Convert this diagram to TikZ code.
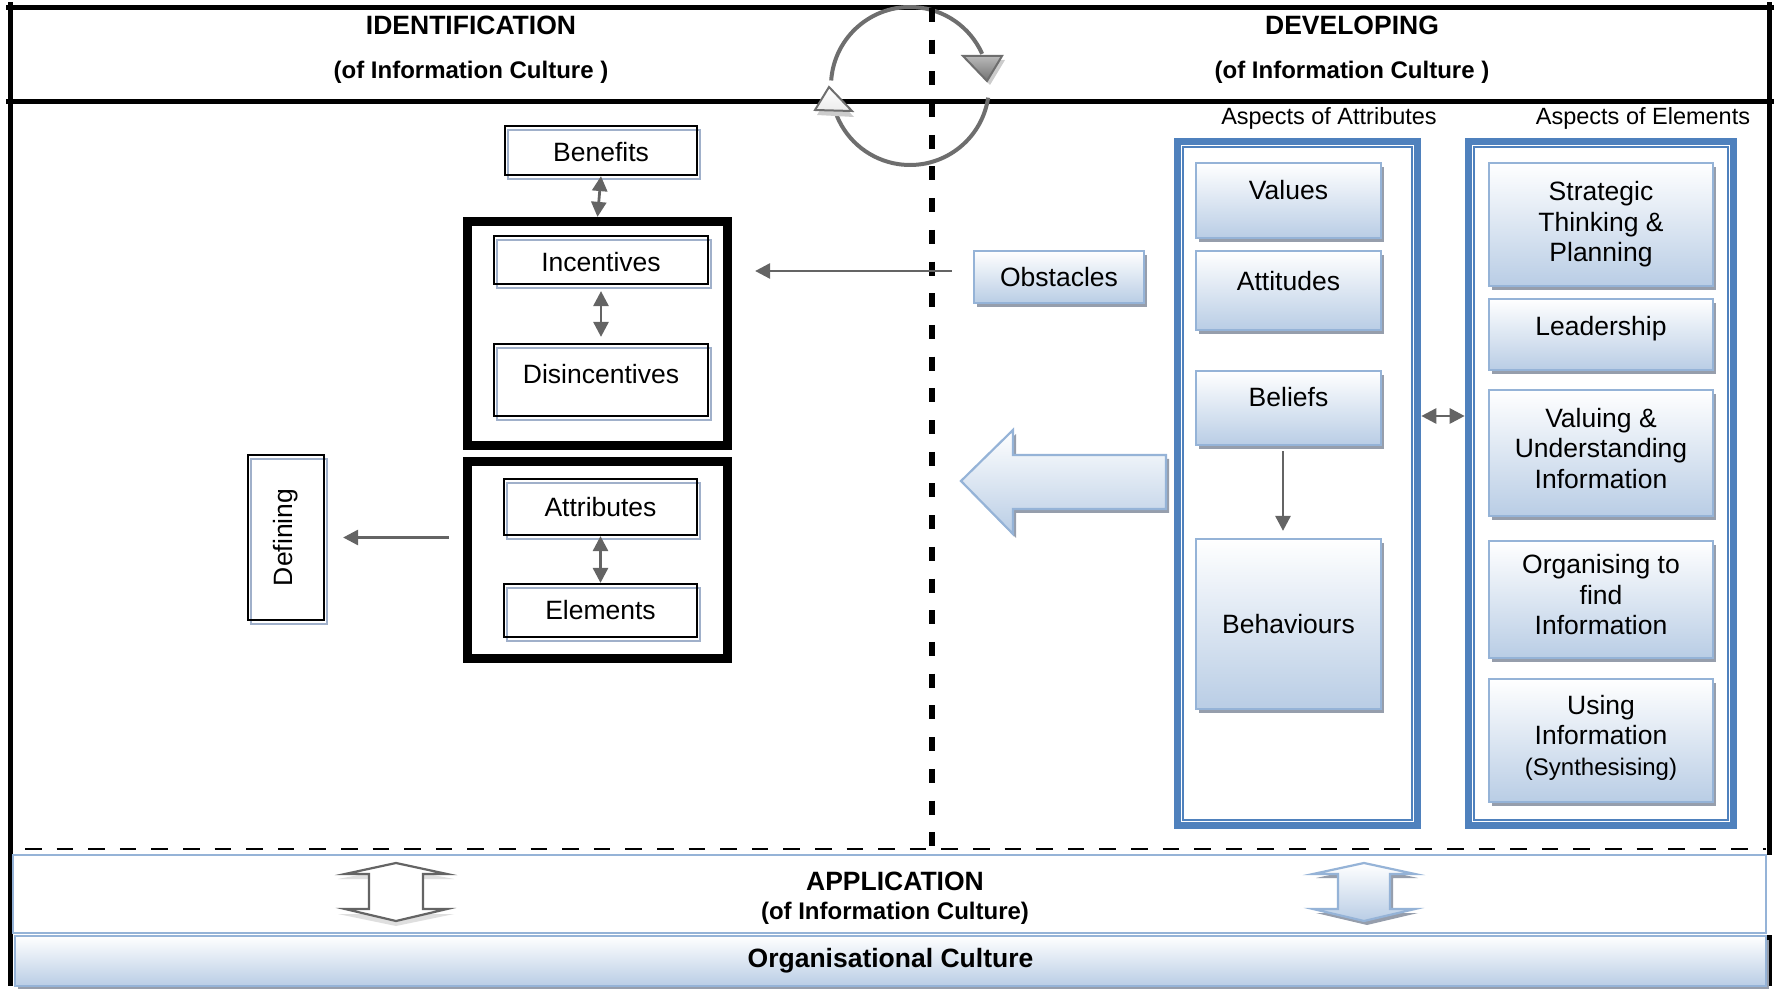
\documentclass[tikz,border=0pt]{standalone}
\usepackage{fontspec}
\setmainfont{Liberation Sans}
\usetikzlibrary{arrows.meta,calc}

\definecolor{gbot}{RGB}{185,205,229}
\definecolor{gedge}{RGB}{149,179,215}
\definecolor{gshade}{RGB}{150,158,172}
\definecolor{wshade}{RGB}{160,176,202}
\definecolor{frameblue}{RGB}{79,129,189}
\definecolor{linkgray}{RGB}{100,100,100}
\definecolor{cyclegray}{RGB}{110,110,110}

\tikzset{
  bigfont/.style={font=\fontsize{13.25}{15.25}\selectfont},
  lbl/.style={bigfont, align=center},
  wbox/.style={lbl, draw=black, line width=1.1pt, inner sep=0pt,
    preaction={draw=wshade, line width=0.7pt, transform canvas={shift={(1.5pt,-2pt)}}}},
  gbox/.style={lbl, draw=gedge, line width=1.1pt, top color=white, bottom color=gbot, inner sep=0pt,
    preaction={fill=gshade, transform canvas={shift={(1.5pt,-2pt)}}}},
  blackframe/.style={draw=black, line width=3.6pt, inner sep=0pt},
  blueframe/.style={draw=frameblue, line width=3.8pt, inner sep=0pt},
  conn/.style={draw=linkgray, line width=1.4pt, -{Triangle[length=7.5pt,width=7.5pt]}},
  dconn/.style={draw=linkgray, line width=1.4pt, {Triangle[length=7.5pt,width=7.5pt]}-{Triangle[length=7.5pt,width=7.5pt]}},
  htitle/.style={font=\fontsize{13.25}{15.25}\selectfont\bfseries},
  hsub/.style={font=\fontsize{12}{14}\selectfont\bfseries},
  aspect/.style={font=\fontsize{11.75}{14}\selectfont},
  framerule/.style={line width=2.5pt, line cap=rect},
}

\begin{document}
\begin{tikzpicture}[x=0.5pt,y=-0.5pt]
\useasboundingbox (0,0) rectangle (1774,989);

% outer frame and header row
\draw[framerule] (8,7.5) -- (1771.5,7.5);
\draw[framerule] (8,101.5) -- (1771.5,101.5);
\draw[framerule] (10,5) -- (10,983);
\draw[framerule] (1769,5) -- (1769,852);
\draw[framerule] (1769,937) -- (1769,983);

\node[htitle] (idtitle) at (471,25) {IDENTIFICATION};
\node[hsub] (idsub) at (471,72) {(of Information Culture )};
\node[htitle] (devtitle) at (1352,25) {DEVELOPING};
\node[hsub] (devsub) at (1352,72) {(of Information Culture )};

% cycle between identification and developing
\coordinate (cyc) at (910,86);
\draw[cyclegray, line width=2pt] (cyc) ++(176:39.5pt) arc[start angle=176, end angle=24, radius=39.5pt];
\draw[cyclegray, line width=2pt] (cyc) ++(-8.5:39.5pt) arc[start angle=-8.5, end angle=-158, radius=39.5pt];
\fill[gray!40] (966,60) -- (1005,60) -- (990,85) -- cycle;
\draw[cyclegray, line width=1pt, top color=gray!55, bottom color=gray!90!black] (963,56) -- (1002,56) -- (987,81) -- cycle;
\fill[gray!40] (817,115) -- (854,117) -- (831,92) -- cycle;
\draw[cyclegray, line width=1pt, top color=white, bottom color=gray!15] (829,87) -- (852,111) -- (815,110) -- cycle;

% dividers
\draw[line width=3pt, dash pattern=on 7pt off 8.85pt] (932,8) -- (932,849);
\draw[line width=0.7pt, dash pattern=on 8.3pt off 7.5pt, dash phase=9.8pt] (13,849) -- (1766,849);

% identification side
\node[wbox, minimum width=96pt, minimum height=24.5pt,
      label={[lbl,yshift=-1pt]center:Benefits}] (benefits) at (601,150.5) {};

\node[blackframe, minimum width=131pt, minimum height=113pt] (f1) at (597.5,333.5) {};
\draw[line width=0.8pt] ([shift={(8,8)}]f1.north west) rectangle ([shift={(-8,-8)}]f1.south east);
\node[wbox, minimum width=107pt, minimum height=24pt,
      label={[lbl,yshift=-1pt]center:Incentives}] (incent) at (601,260) {};
\node[wbox, minimum width=107pt, minimum height=36pt,
      label={[lbl,yshift=3pt]center:Disincentives}] (disinc) at (601,380) {};

\node[blackframe, minimum width=131pt, minimum height=99.5pt] (f2) at (597.5,560) {};
\draw[line width=0.8pt] ([shift={(8,8)}]f2.north west) rectangle ([shift={(-8,-8)}]f2.south east);
\node[wbox, minimum width=96.5pt, minimum height=28pt] (attr) at (600.5,507) {Attributes};
\node[wbox, minimum width=96.5pt, minimum height=26.5pt] (elem) at (600.5,610.5) {Elements};

\node[wbox, minimum width=38pt, minimum height=82.5pt] (defining) at (286,537.5) {\rotatebox{90}{Defining}};

\draw[dconn] (benefits.south) -- (f1.north);
\draw[dconn, shorten <=3pt, shorten >=3pt] (incent.south) -- (disinc.north);
\draw[dconn] (attr.south) -- (elem.north);
\draw[conn, shorten <=7pt, shorten >=9pt] (f2.west |- defining.east) -- (defining.east);

% obstacles
\node[gbox, minimum width=85pt, minimum height=26pt] (obst) at (1059,277) {Obstacles};
\coordinate (obsout) at ([yshift=3pt]obst.west);
\draw[conn, shorten <=10.5pt, shorten >=11.5pt] (obsout) -- (f1.east |- obsout);

% large block arrow pointing back to identification
\fill[gshade] (964,485) -- (1016,434) -- (1016,459) -- (1169,459) -- (1169,513) -- (1016,513) -- (1016,538) -- cycle;
\draw[gedge, line width=1.1pt, top color=white, bottom color=gbot]
  (961,481) -- (1013,430) -- (1013,455) -- (1166,455) -- (1166,509) -- (1013,509) -- (1013,534) -- cycle;

% developing side
\node[aspect] (aspA) at (1329,118) {Aspects of Attributes};
\node[aspect] (aspE) at (1643,118) {Aspects of Elements};

\node[blueframe, minimum width=120pt, minimum height=342pt] (c1) at (1297.5,483.5) {};
\draw[frameblue, line width=1pt] ([shift={(9.5,9.5)}]c1.north west) rectangle ([shift={(-9.5,-9.5)}]c1.south east);
\node[blueframe, minimum width=132.5pt, minimum height=342pt] (c2) at (1601,483.5) {};
\draw[frameblue, line width=1pt] ([shift={(9.5,9.5)}]c2.north west) rectangle ([shift={(-9.5,-9.5)}]c2.south east);

\node[gbox, minimum width=92.5pt, minimum height=37.5pt,
      label={[lbl,yshift=5pt]center:Values}] (values) at (1288.5,200.5) {};
\node[gbox, minimum width=92.5pt, minimum height=39.5pt,
      label={[lbl,yshift=4.75pt]center:Attitudes}] (attit) at (1288.5,290.5) {};
\node[gbox, minimum width=92.5pt, minimum height=37pt,
      label={[lbl,yshift=5.5pt]center:Beliefs}] (beliefs) at (1288.5,408) {};
\node[gbox, minimum width=92.5pt, minimum height=85pt] (behav) at (1288.5,624) {Behaviours};

\node[gbox, minimum width=112pt, minimum height=61.5pt] (strat) at (1601,224.5) {Strategic\\Thinking \&\\Planning};
\node[gbox, minimum width=112pt, minimum height=35.5pt,
      label={[lbl,yshift=3pt]center:Leadership}] (lead) at (1601,334.5) {};
\node[gbox, minimum width=112pt, minimum height=63pt,
      label={[lbl,yshift=2.25pt]center:Valuing \&\\Understanding\\Information}] (valu) at (1601,453) {};
\node[gbox, minimum width=112pt, minimum height=58.5pt,
      label={[lbl,yshift=2.25pt]center:Organising to\\find\\Information}] (organ) at (1601,599.5) {};
\node[gbox, minimum width=112pt, minimum height=61.5pt,
      label={[lbl,yshift=1.5pt]center:Using\\Information\\{\fontsize{12}{15.25}\selectfont(Synthesising)}}] (using) at (1601,740.5) {};

\draw[conn, shorten <=2.5pt, shorten >=3.5pt] ([xshift=-2.75pt]beliefs.south) -- ([xshift=-2.75pt]behav.north);
\coordinate (lvl) at ([yshift=-4pt]beliefs.east);
\draw[dconn] (c1.east |- lvl) -- (c2.west |- lvl);

% application band
\node[draw=gedge, line width=1.1pt, fill=white, minimum width=876.5pt, minimum height=39pt, inner sep=0pt] (appbox) at (889.5,894) {};
\node[htitle] (apptitle) at (895,881) {APPLICATION};
\node[hsub] (appsub) at (895,913) {(of Information Culture)};

% two-way arrows in the application band
\begin{scope}[shift={(396,0)}]
  \fill[gray!25] (0,868) -- (58,879) -- (27,879) -- (27,914) -- (58,914) -- (0,926) -- (-58,914) -- (-27,914) -- (-27,879) -- (-58,879) -- cycle;
  \draw[linkgray, line width=1.1pt, fill=white]
    (0,863) -- (51,874) -- (27,874) -- (27,909) -- (51,909) -- (0,921) -- (-51,909) -- (-27,909) -- (-27,874) -- (-51,874) -- cycle;
\end{scope}
\begin{scope}[shift={(1364,0)}]
  \fill[gshade] (3,867) -- (54,878) -- (29,878) -- (29,913) -- (54,913) -- (3,925) -- (-48,913) -- (-23,913) -- (-23,878) -- (-48,878) -- cycle;
  \draw[gedge, line width=1.1pt, top color=white, bottom color=gbot]
    (0,863) -- (51,874) -- (26,874) -- (26,909) -- (51,909) -- (0,921) -- (-51,909) -- (-26,909) -- (-26,874) -- (-51,874) -- cycle;
\end{scope}

% organisational culture bar
\node[gbox, font=\fontsize{13.25}{15.25}\selectfont\bfseries, minimum width=875.5pt, minimum height=25pt] (orgc) at (890.5,961) {Organisational Culture};

\end{tikzpicture}
\end{document}
